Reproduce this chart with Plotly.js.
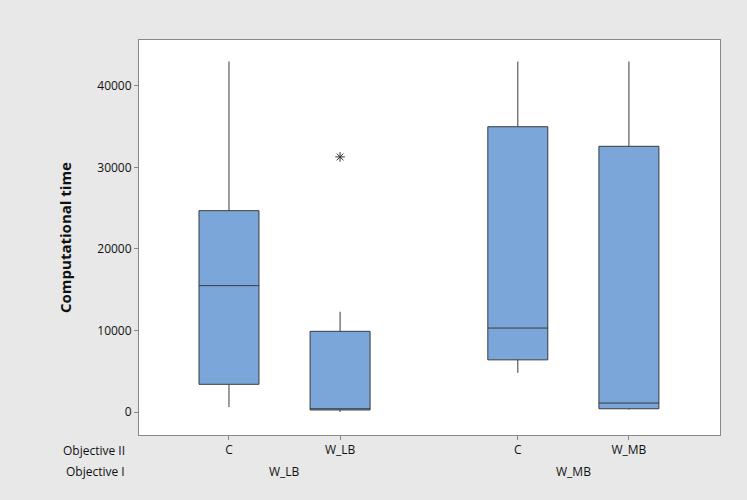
<!DOCTYPE html>
<html><head><script src="https://cdn.plot.ly/plotly-3.0.1.min.js"></script>
<style>body{margin:0;background:#fff}</style></head><body>
<div id="c" style="width:747px;height:500px"></div>
<script>
const objII = ["C","W_LB","C","W_MB"];
const objI = ["W_LB","W_MB"];
const pos = [0,1,2.6,3.6];
const lowerFence = [600, 0, 4800, 300];
const q1 = [3400, 250, 6400, 400];
const median = [15500, 400, 10300, 1100];
const q3 = [24700, 9900, 35000, 32600];
const upperFence = [43000, 12300, 43000, 43000];
const outlierX = [1];
const outlierY = [31300];
const yTicks = [0,10000,20000,30000,40000];

const traces = [{
  type:"box", x:pos, q1:q1, median:median, q3:q3,
  lowerfence:lowerFence, upperfence:upperFence,
  width:0.54, fillcolor:"#7ba6d9", line:{color:"#3a3a3a",width:1},
  whiskerwidth:0, boxpoints:false, hoverinfo:"none"
},{
  type:"scatter", mode:"markers", x:outlierX, y:outlierY,
  marker:{symbol:"asterisk-open", size:8, color:"#333", line:{width:1,color:"#333"}}
}];
const layout = {
  width:747, height:500, showlegend:false,
  paper_bgcolor:"#e8e8e8", plot_bgcolor:"#fff",
  margin:{l:139, r:27, t:40, b:65},
  font:{family:"Open Sans", size:12, color:"#111"},
  xaxis:{range:[-0.81,4.42], tickvals:pos, ticktext:objII, ticks:"outside", ticklen:4,
    tickcolor:"#888", showgrid:false, zeroline:false, showline:true, linecolor:"#888", mirror:true},
  yaxis:{range:[-2820,45640], tickvals:yTicks, ticktext:yTicks.map(String), ticks:"outside", ticklen:4,
    tickcolor:"#888", showgrid:false, zeroline:false, showline:true, linecolor:"#888", mirror:true,
    title:{text:"<b>Computational time</b>", font:{size:15, color:"#111"}, standoff:22}},
  annotations:[
    {text:"Objective II", xref:"paper", yref:"paper", x:-0.02, y:-0.065, xanchor:"right", showarrow:false},
    {text:"Objective I", xref:"paper", yref:"paper", x:-0.02, y:-0.12, xanchor:"right", showarrow:false},
    {text:objI[0], xref:"x", yref:"paper", x:(pos[0]+pos[1])/2, y:-0.12, showarrow:false},
    {text:objI[1], xref:"x", yref:"paper", x:(pos[2]+pos[3])/2, y:-0.12, showarrow:false}
  ]
};
Plotly.newPlot("c", traces, layout, {displayModeBar:false});
</script></body></html>
